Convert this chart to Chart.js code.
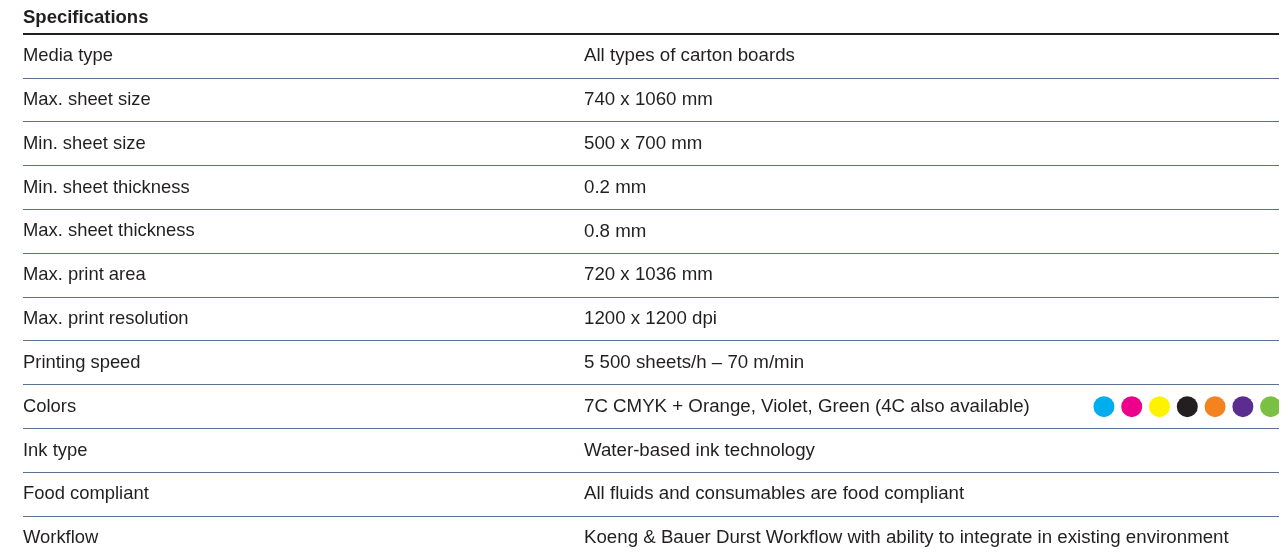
<!DOCTYPE html>
<html>
<head>
<meta charset="utf-8">
<script src="https://cdn.jsdelivr.net/npm/chart.js@4.4.1/dist/chart.umd.min.js"></script>
<style>
    html, body { margin: 0; padding: 0; background: #fff; overflow: hidden; }
    canvas { display: block; }
</style>
</head>
<body>
<canvas id="specChart" width="1287" height="560"></canvas>
<script>
// Data
const title = 'Specifications';
const rowLabels = [
    'Media type',
    'Max. sheet size',
    'Min. sheet size',
    'Min. sheet thickness',
    'Max. sheet thickness',
    'Max. print area',
    'Max. print resolution',
    'Printing speed',
    'Colors',
    'Ink type',
    'Food compliant',
    'Workflow'
];
const rowValues = [
    'All types of carton boards',
    '740 x 1060 mm',
    '500 x 700 mm',
    '0.2 mm',
    '0.8 mm',
    '720 x 1036 mm',
    '1200 x 1200 dpi',
    '5 500 sheets/h \u2013 70 m/min',
    '7C CMYK + Orange, Violet, Green (4C also available)',
    'Water-based ink technology',
    'All fluids and consumables are food compliant',
    'Koeng & Bauer Durst Workflow with ability to integrate in existing environment'
];
const inkNames = ['Cyan', 'Magenta', 'Yellow', 'Black', 'Orange', 'Violet', 'Green'];
const inkColors = ['#00aeef', '#ec008c', '#fff200', '#231f20', '#f58220', '#5c2d91', '#7ac143'];
const inkRow = 'Colors';

// Style
const TEXT_COLOR = '#231f20';
const LINE_COLOR = '#5b7290';
const FONT = '"Liberation Sans", Arial, sans-serif';
const VALUE_OFFSET = 561; // second column, px from the table's left edge

// Draws the value column next to each row label
const valueColumn = {
    id: 'valueColumn',
    afterDatasetsDraw(chart) {
        const { ctx, chartArea, scales } = chart;
        ctx.save();
        ctx.font = `18.7px ${FONT}`;
        ctx.fillStyle = TEXT_COLOR;
        ctx.textAlign = 'left';
        ctx.textBaseline = 'middle';
        rowValues.forEach((v, i) => {
            ctx.fillText(v, chartArea.left + VALUE_OFFSET, scales.y.getPixelForValue(i));
        });
        ctx.restore();
    }
};

const ctx = document.getElementById('specChart').getContext('2d');
new Chart(ctx, {
    type: 'scatter',
    data: {
        datasets: [{
            label: 'Inks',
            data: inkNames.map((n, i) => ({ x: i, y: inkRow })),
            pointBackgroundColor: inkColors,
            pointBorderWidth: 0,
            pointRadius: 10.5,
            pointHoverRadius: 10.5
        }]
    },
    options: {
        responsive: false,
        animation: false,
        events: [],
        layout: { autoPadding: false, padding: { left: 23, right: 8, top: 0, bottom: 0 } },
        plugins: {
            legend: { display: false },
            tooltip: { enabled: false },
            title: {
                display: true,
                text: title,
                align: 'start',
                color: TEXT_COLOR,
                font: { family: FONT, size: 18.5, weight: 'bold' },
                padding: { top: 7, bottom: 5 }
            }
        },
        scales: {
            x: {
                type: 'linear',
                display: false,
                min: -38.9,
                max: 6.3
            },
            y: {
                type: 'category',
                labels: rowLabels,
                offset: true,
                border: { display: false },
                // mirrored labels sit inside the rows, so no extra room for them
                afterFit(scale) {
                    scale.paddingTop = 0;
                    scale.paddingBottom = 0;
                },
                grid: {
                    offset: true,
                    drawTicks: false,
                    color: c => c.index === 0 ? TEXT_COLOR : LINE_COLOR,
                    lineWidth: c => c.index === 0 ? 2 : 1
                },
                ticks: {
                    mirror: true,
                    padding: 0,
                    color: TEXT_COLOR,
                    font: { family: FONT, size: 18.4 }
                }
            }
        }
    },
    plugins: [valueColumn]
});
</script>
</body>
</html>
